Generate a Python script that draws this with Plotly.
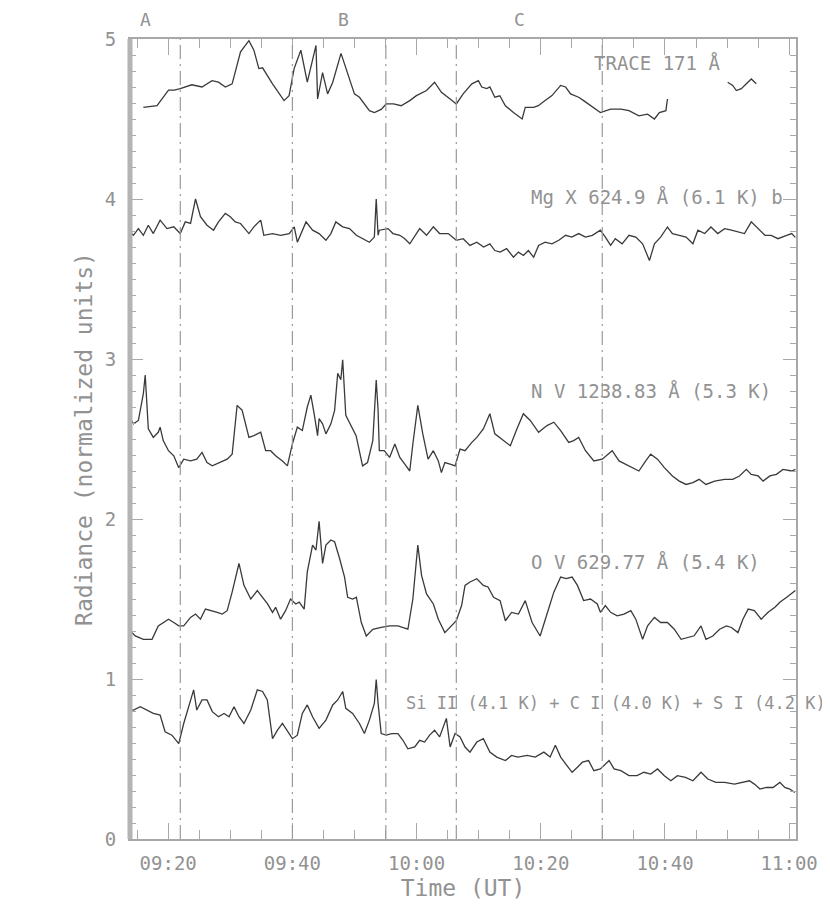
"""
Radiance light curves (TRACE 171 + SUMER/CDS lines), normalized and offset.
Time axis is minutes after 09:00 UT.
"""
import plotly.graph_objects as go

# ---------------------------------------------------------------------------
# Data
# ---------------------------------------------------------------------------
TRACE_T = [16.0, 18.2, 20.05, 21.0, 21.94, 23.8, 25.45, 27.06, 28.1, 29.2, 30.3,
           31.65, 33.0, 33.8, 34.6, 35.2, 36.8, 38.66, 39.47, 40.28, 41.36, 42.4,
           43.25, 43.8, 44.06, 44.86, 45.67, 46.5, 47.83, 48.64, 49.99, 50.8, 52.4,
           53.2, 54.3, 55.1, 56.3, 57.5, 58.9, 59.97, 61.6, 62.9, 64.0, 65.4, 66.4,
           67.5, 68.9, 69.95, 70.5, 71.3, 71.8, 72.6, 73.4, 74.3, 75.6, 77.0, 77.5,
           78.85, 79.6, 80.7, 81.8, 83.2, 84.0, 84.8, 86.1, 86.9, 88.5, 89.6, 91.25,
           92.9, 94.2, 95.8, 97.2, 98.3, 99.1, 100.15, 100.4,
           None,
           110.1, 110.9, 111.5, 112.3, 113.1, 113.9, 114.7]
TRACE_V = [4.573, 4.583, 4.68, 4.68, 4.69, 4.714, 4.70, 4.74, 4.73, 4.70, 4.72,
           4.92, 4.99, 4.93, 4.815, 4.82, 4.72, 4.615, 4.646, 4.815, 4.93, 4.73,
           4.87, 4.96, 4.625, 4.79, 4.657, 4.73, 4.91, 4.815, 4.657, 4.636, 4.552,
           4.54, 4.56, 4.594, 4.594, 4.583, 4.615, 4.646, 4.678, 4.73, 4.667, 4.625, 4.594,
           4.657, 4.72, 4.74, 4.70, 4.69, 4.70, 4.636, 4.645, 4.583, 4.54, 4.50, 4.573,
           4.573, 4.583, 4.615, 4.646, 4.71, 4.70, 4.657, 4.636, 4.615, 4.573, 4.54, 4.562,
           4.562, 4.552, 4.52, 4.53, 4.50, 4.54, 4.552, 4.625,
           None,
           4.73, 4.71, 4.678, 4.69, 4.72, 4.75, 4.72]

MGX_T = [13.6, 14.4, 15.2, 16.0, 16.8, 17.6, 18.7, 19.8, 20.9, 21.94, 22.75, 23.6,
         24.4, 25.2, 26.25, 27.3, 28.1, 29.2, 30.0, 30.8, 31.65, 33.0, 33.8, 34.9,
         35.4, 36.8, 38.1, 39.5, 40.3, 40.8, 42.2, 43.25, 44.3, 45.4, 46.2, 47.0,
         48.1, 49.2, 50.3, 51.3, 52.4, 53.2, 53.5, 53.8, 54.0, 55.4, 56.2, 57.3,
         58.1, 58.9, 59.97, 60.5, 61.6, 62.7, 63.7, 65.1, 66.4, 67.5, 68.6, 69.7,
         70.8, 71.8, 72.6, 73.45, 74.5, 75.6, 76.4, 77.2, 78.0, 78.85, 79.65, 80.7,
         81.8, 82.9, 84.0, 85.0, 86.1, 87.2, 88.3, 89.6, 90.4, 91.25, 92.0, 93.1,
         94.2, 95.3, 96.4, 97.5, 98.3, 99.3, 100.4, 101.2, 102.3, 103.4, 104.5,
         105.3, 106.4, 107.4, 108.5, 109.6, 110.7, 111.75, 112.8, 113.9, 115.0,
         116.1, 117.1, 118.2, 119.6, 120.4, 121.0]
MGX_V = [3.805, 3.773, 3.815, 3.773, 3.836, 3.784, 3.868, 3.815, 3.826, 3.784, 3.857, 3.847,
         4.00, 3.89, 3.836, 3.805, 3.857, 3.91, 3.889, 3.857, 3.847, 3.784, 3.826, 3.868,
         3.773, 3.784, 3.773, 3.784, 3.826, 3.73, 3.857, 3.805, 3.784, 3.742, 3.784, 3.857,
         3.826, 3.815, 3.773, 3.752, 3.73, 3.762, 4.00, 3.773, 3.805, 3.815, 3.784, 3.773,
         3.752, 3.72, 3.784, 3.815, 3.773, 3.826, 3.784, 3.784, 3.742, 3.752, 3.71, 3.73,
         3.70, 3.72, 3.678, 3.668, 3.69, 3.636, 3.668, 3.647, 3.678, 3.636, 3.71, 3.73,
         3.72, 3.742, 3.773, 3.762, 3.784, 3.762, 3.773, 3.805, 3.762, 3.71, 3.752, 3.72,
         3.773, 3.762, 3.72, 3.615, 3.72, 3.762, 3.825, 3.784, 3.773, 3.762, 3.72,
         3.805, 3.784, 3.825, 3.784, 3.815, 3.805, 3.794, 3.784, 3.857, 3.815,
         3.773, 3.773, 3.752, 3.773, 3.784, 3.76]

NV_T = [13.6, 14.4, 15.2, 16.0, 16.3, 16.8, 17.6, 18.4, 18.7, 19.2, 20.05, 20.9,
        21.7, 22.5, 23.6, 24.6, 25.45, 26.25, 27.1, 28.4, 29.5, 30.3, 31.1, 31.9,
        33.0, 33.8, 34.9, 35.7, 36.5, 37.3, 38.4, 39.2, 40.0, 40.8, 41.6, 42.4,
        42.97, 43.5, 44.06, 44.3, 44.86, 45.4, 46.2, 46.8, 47.3, 47.8, 48.1, 48.6,
        49.45, 50.26, 51.3, 52.1, 52.95, 53.2, 53.5, 53.8, 54.0, 54.8, 55.65, 56.5,
        57.3, 58.1, 58.9, 59.4, 60.2, 61.0, 61.85, 62.7, 63.5, 64.0, 64.55, 65.4,
        66.2, 67.0, 67.8, 68.9, 69.7, 70.75, 71.8, 72.6, 73.7, 75.1, 76.15, 77.2,
        78.3, 79.65, 81.0, 82.1, 83.2, 84.5, 85.3, 86.1, 87.2, 88.55, 89.9, 91.5,
        92.6, 94.2, 95.8, 96.9, 97.7, 98.8, 99.9, 101.2, 102.3, 103.4, 104.5, 105.5,
        106.6, 108.0, 109.6, 110.9, 112.0, 113.1, 113.9, 115.0, 115.8, 116.9, 117.95,
        119.0, 120.4, 121.0]
NV_V = [2.648, 2.595, 2.616, 2.784, 2.90, 2.563, 2.51, 2.542, 2.574, 2.49, 2.427, 2.395,
        2.32, 2.374, 2.363, 2.374, 2.416, 2.353, 2.332, 2.353, 2.374, 2.405, 2.71, 2.68,
        2.51, 2.521, 2.542, 2.427, 2.427, 2.395, 2.363, 2.332, 2.469, 2.574, 2.553, 2.70,
        2.774, 2.658, 2.521, 2.627, 2.595, 2.532, 2.595, 2.679, 2.91, 2.87, 2.995, 2.648,
        2.584, 2.521, 2.332, 2.353, 2.49, 2.68, 2.869, 2.68, 2.427, 2.427, 2.385, 2.469,
        2.385, 2.343, 2.30, 2.469, 2.71, 2.532, 2.374, 2.427, 2.363, 2.29, 2.353, 2.343,
        2.332, 2.437, 2.427, 2.479, 2.51, 2.563, 2.658, 2.532, 2.50, 2.458, 2.563, 2.658,
        2.616, 2.542, 2.584, 2.605, 2.553, 2.479, 2.49, 2.51, 2.427, 2.363, 2.374, 2.427,
        2.363, 2.332, 2.30, 2.363, 2.405, 2.374, 2.321, 2.269, 2.237, 2.216, 2.227, 2.248,
        2.216, 2.237, 2.248, 2.248, 2.269, 2.31, 2.279, 2.269, 2.237, 2.269, 2.279,
        2.31, 2.30, 2.31]

OV_T = [13.6, 14.7, 16.0, 17.4, 18.4, 19.2, 20.05, 20.9, 21.7, 22.5, 23.6, 24.4,
        25.2, 26.0, 27.1, 27.9, 28.7, 29.5, 30.3, 31.4, 32.2, 33.3, 34.35, 35.2,
        36.0, 36.8, 37.3, 38.1, 38.9, 39.7, 40.55, 41.1, 41.9, 42.4, 43.25, 43.8,
        44.3, 44.86, 45.4, 46.2, 46.8, 47.6, 48.4, 48.9, 49.7, 50.3, 51.1, 51.9,
        52.95, 54.3, 55.65, 57.0, 57.8, 58.6, 59.4, 60.2, 60.8, 61.6, 62.7, 63.5,
        64.55, 65.6, 66.4, 67.25, 67.8, 68.6, 69.7, 70.75, 71.5, 72.4, 73.45, 74.3,
        75.3, 76.4, 77.5, 78.6, 79.9, 81.0, 82.1, 83.2, 84.1, 85.05, 85.9, 86.9,
        88.0, 89.1, 89.6, 90.4, 91.25, 92.3, 93.4, 94.5, 95.3, 96.4, 97.2, 98.3,
        99.3, 100.4, 101.5, 102.6, 103.7, 104.7, 105.8, 106.6, 107.7, 108.8, 109.9,
        110.7, 111.75, 112.55, 113.4, 114.4, 115.5, 116.6, 117.7, 118.5, 119.6,
        120.4, 121.0]
OV_V = [1.311, 1.269, 1.248, 1.248, 1.332, 1.353, 1.374, 1.353, 1.332, 1.332, 1.385, 1.406,
        1.374, 1.437, 1.427, 1.416, 1.406, 1.427, 1.543, 1.722, 1.585, 1.50, 1.553, 1.511,
        1.469, 1.416, 1.448, 1.374, 1.427, 1.50, 1.469, 1.48, 1.437, 1.669, 1.837, 1.806,
        1.985, 1.722, 1.837, 1.869, 1.858, 1.753, 1.637, 1.511, 1.50, 1.511, 1.353, 1.269,
        1.311, 1.322, 1.332, 1.332, 1.322, 1.311, 1.50, 1.837, 1.648, 1.532, 1.469, 1.374,
        1.29, 1.332, 1.364, 1.459, 1.585, 1.606, 1.627, 1.585, 1.575, 1.511, 1.49, 1.364,
        1.416, 1.406, 1.49, 1.353, 1.269, 1.406, 1.543, 1.637, 1.627, 1.637, 1.585, 1.49,
        1.50, 1.469, 1.417, 1.459, 1.417, 1.395, 1.406, 1.427, 1.374, 1.248, 1.332, 1.385,
        1.353, 1.353, 1.311, 1.248, 1.259, 1.27, 1.332, 1.248, 1.269, 1.311, 1.332,
        1.322, 1.29, 1.374, 1.437, 1.427, 1.374, 1.417, 1.448, 1.48, 1.511,
        1.532, 1.553]

SI_T = [13.6, 14.4, 15.5, 16.5, 17.6, 18.7, 19.5, 20.6, 21.7, 22.5, 23.3, 24.1,
        24.6, 25.45, 26.25, 27.1, 28.1, 29.0, 29.8, 30.6, 31.4, 32.2, 33.3, 34.35,
        35.2, 35.96, 36.8, 37.6, 38.4, 39.2, 40.0, 40.8, 41.6, 42.4, 43.25, 44.3,
        45.4, 46.5, 47.3, 48.1, 48.6, 49.7, 50.8, 51.6, 52.4, 53.2, 53.5, 53.8,
        54.3, 55.1, 56.0, 57.0, 57.8, 58.6, 59.7, 60.5, 61.3, 62.1, 62.9, 63.7,
        64.8, 65.4, 66.2, 67.0, 67.8, 68.6, 69.7, 70.75, 71.8, 72.9, 74.3, 75.3,
        76.3, 77.8, 79.1, 80.5, 81.5, 82.35, 83.2, 84.0, 85.05, 85.9, 86.7, 87.7,
        88.55, 89.6, 90.4, 91.0, 91.8, 92.9, 94.2, 95.5, 96.6, 97.7, 98.8, 99.9,
        100.95, 102.0, 103.3, 104.5, 105.8, 106.9, 108.2, 109.6, 111.2, 112.55,
        113.6, 114.4, 115.3, 116.3, 117.4, 118.5, 119.3, 120.1, 120.9]
SI_V = [0.806, 0.806, 0.827, 0.806, 0.785, 0.775, 0.67, 0.649, 0.596, 0.722, 0.827, 0.932,
        0.806, 0.869, 0.869, 0.796, 0.764, 0.785, 0.764, 0.827, 0.764, 0.722, 0.806, 0.932,
        0.922, 0.869, 0.627, 0.68, 0.722, 0.67, 0.627, 0.649, 0.785, 0.838, 0.764, 0.691,
        0.743, 0.838, 0.869, 0.922, 0.817, 0.785, 0.722, 0.659, 0.743, 0.848, 0.996, 0.848,
        0.659, 0.649, 0.659, 0.659, 0.617, 0.564, 0.575, 0.617, 0.606, 0.649, 0.68, 0.638,
        0.754, 0.575, 0.659, 0.638, 0.575, 0.543, 0.606, 0.627, 0.543, 0.512, 0.49, 0.522,
        0.512, 0.522, 0.512, 0.543, 0.512, 0.586, 0.512, 0.47, 0.417, 0.448, 0.48, 0.49,
        0.427, 0.438, 0.469, 0.49, 0.438, 0.427, 0.396, 0.396, 0.417, 0.406, 0.438, 0.396,
        0.364, 0.396, 0.385, 0.364, 0.417, 0.375, 0.354, 0.354, 0.343, 0.354,
        0.364, 0.343, 0.312, 0.322, 0.322, 0.354, 0.322, 0.312, 0.291]

SERIES = [
    ("TRACE 171 Å", TRACE_T, TRACE_V),
    ("Mg X 624.9 Å", MGX_T, MGX_V),
    ("N V 1238.83 Å", NV_T, NV_V),
    ("O V 629.77 Å", OV_T, OV_V),
    ("Si II + C I + S I", SI_T, SI_V),
]

# Line labels: (text, time of left edge, radiance level, font size)
LINE_LABELS = [
    ("TRACE 171 Å", 88.3, 4.85, 19),
    ("Mg X 624.9 Å (6.1 K) b", 78.1, 4.015, 19),
    ("N V 1238.83 Å (5.3 K)", 78.1, 2.80, 19),
    ("O V 629.77 Å (5.4 K)", 78.1, 1.73, 19),
    ("Si II (4.1 K) + C I (4.0 K) + S I (4.2 K)", 58.0, 0.85, 17),
]

# Event markers (dash-dot verticals) and the letters over the top axis
EVENT_TIMES = [21.95, 40.0, 55.05, 66.4, 89.9]
EVENT_LETTERS = ["A", "B", "C"]
EVENT_LETTER_TIMES = [16.4, 48.3, 76.5]

TICK_MINUTES = [20, 40, 60, 80, 100, 120]
TICK_LABELS = ["09:20", "09:40", "10:00", "10:20", "10:40", "11:00"]
MINOR_MINUTES = list(range(15, 121, 5))

X_RANGE = [13.85, 121.1]
Y_RANGE = [0, 5]

# ---------------------------------------------------------------------------
# Styling
# ---------------------------------------------------------------------------
FONT = "DejaVu Sans Mono"
TEXT_COLOR = "#929292"
AXIS_COLOR = "#a8a8a8"
LINE_COLOR = "#3a3a3a"

fig = go.Figure()

for name, t, v in SERIES:
    fig.add_trace(go.Scatter(
        x=t, y=v, mode="lines", name=name,
        line=dict(color=LINE_COLOR, width=1.3),
        connectgaps=False, showlegend=False,
    ))

for t in EVENT_TIMES:
    fig.add_vline(x=t, line=dict(color="#9a9a9a", width=1.2, dash="14px,5px,2px,5px"))

for text, t, v, size in LINE_LABELS:
    fig.add_annotation(
        x=t, y=v, xref="x", yref="y", text=text, showarrow=False,
        xanchor="left", yanchor="middle",
        font=dict(family=FONT, size=size, color=TEXT_COLOR),
    )

for letter, t in zip(EVENT_LETTERS, EVENT_LETTER_TIMES):
    fig.add_annotation(
        x=t, y=1.024, xref="x", yref="paper", text=letter, showarrow=False,
        xanchor="center", yanchor="middle",
        font=dict(family=FONT, size=18, color=TEXT_COLOR),
    )

# thick left axis band, as in the IDL output
fig.add_shape(type="line", xref="paper", yref="paper", x0=0, x1=0, y0=0, y1=1,
              line=dict(color="#b4b4b4", width=5))

# page body has an 8px margin, so the figure is 8px smaller than the window
fig.update_layout(
    width=822, height=905,
    margin=dict(l=122, r=30, t=31, b=74),
    paper_bgcolor="white", plot_bgcolor="white",
    font=dict(family=FONT, size=19, color=TEXT_COLOR),
    xaxis=dict(
        range=X_RANGE, tickmode="array", tickvals=TICK_MINUTES, ticktext=TICK_LABELS,
        ticks="inside", ticklen=16, tickwidth=1.3, tickcolor=AXIS_COLOR,
        minor=dict(tickmode="array", tickvals=MINOR_MINUTES, ticks="inside",
                   ticklen=9, tickwidth=1.3, tickcolor=AXIS_COLOR),
        showline=True, linecolor=AXIS_COLOR, linewidth=2, mirror="ticks",
        showgrid=False, zeroline=False, ticklabelstandoff=6,
        title=dict(text="Time (UT)", standoff=7),
    ),
    yaxis=dict(
        range=Y_RANGE, tickmode="linear", tick0=0, dtick=1,
        ticks="inside", ticklen=13, tickwidth=1.3, tickcolor=AXIS_COLOR,
        minor=dict(dtick=0.1, ticks="inside", ticklen=6, tickwidth=1.3,
                   tickcolor=AXIS_COLOR),
        showline=True, linecolor=AXIS_COLOR, linewidth=2, mirror="ticks",
        showgrid=False, zeroline=False, ticklabelstandoff=8,
        title=dict(text="Radiance (normalized units)", standoff=6),
    ),
)

fig.write_html("out.html")
